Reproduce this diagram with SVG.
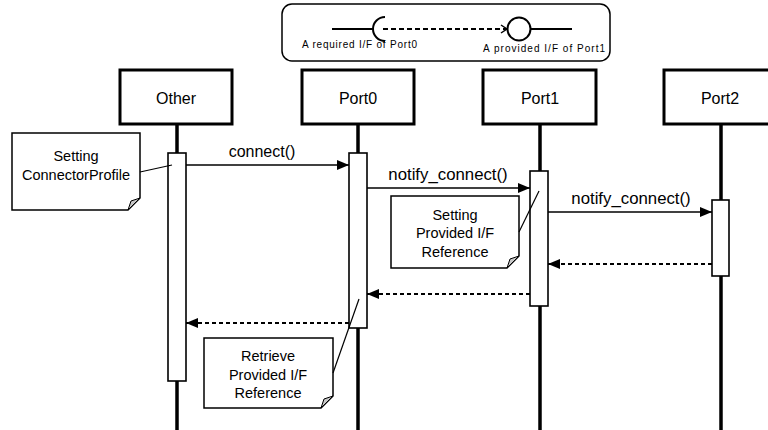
<svg xmlns="http://www.w3.org/2000/svg" width="768" height="430" viewBox="0 0 768 430">
<defs>
<style>
text{font-family:"Liberation Sans",Arial,sans-serif;fill:#000}
.head{fill:#fff;stroke:#000;stroke-width:3}
.life{stroke:#000;stroke-width:3.5}
.act{fill:#fff;stroke:#000;stroke-width:1.6}
.note{fill:#fff;stroke:#000;stroke-width:1.5}
.fold{fill:#c8c8c8;stroke:#000;stroke-width:1}
.lbl{font-size:16px;text-anchor:middle}
.ntxt{font-size:14.5px;text-anchor:middle}
.msg{stroke:#000;stroke-width:1.5;fill:none}
.ret{stroke:#000;stroke-width:1.8;fill:none;stroke-dasharray:4 3}
.link{stroke:#000;stroke-width:1.2}
.lg{font-size:10px}
</style>
<marker id="ah" markerWidth="12" markerHeight="10" refX="12" refY="5" orient="auto" markerUnits="userSpaceOnUse">
<path d="M0,0 L12,5 L0,10 Z" fill="#000"/>
</marker>
</defs>

<g id="legend">
<rect x="282" y="4" width="328" height="57" rx="10" ry="10" fill="#fff" stroke="#000" stroke-width="1.5"/>
<line x1="332" y1="29" x2="373" y2="29" stroke="#000" stroke-width="2"/>
<path d="M385,17 A12,12 0 0 0 385,41" fill="none" stroke="#000" stroke-width="2"/>
<line x1="383" y1="29" x2="506" y2="29" stroke="#000" stroke-width="2" stroke-dasharray="5 3"/>
<path d="M501,25 L507,29 L501,33" fill="none" stroke="#000" stroke-width="1.5"/>
<circle cx="519" cy="29" r="11.5" fill="#fff" stroke="#000" stroke-width="2"/>
<line x1="530.5" y1="29" x2="572" y2="29" stroke="#000" stroke-width="2"/>
<text class="lg" x="302" y="48" textLength="115" lengthAdjust="spacing">A required I/F of Port0</text>
<text class="lg" x="483" y="52" textLength="122" lengthAdjust="spacing">A provided I/F of Port1</text>
</g>

<g id="lifelines">
<line class="life" x1="177" y1="124" x2="177" y2="430"/>
<line class="life" x1="358" y1="124" x2="358" y2="430"/>
<line class="life" x1="540" y1="124" x2="540" y2="430"/>
<line class="life" x1="721" y1="124" x2="721" y2="430"/>
</g>

<g id="Other">
<rect class="head" x="120" y="70" width="112" height="54"/>
<text class="lbl" x="176" y="104">Other</text>
<rect class="act" x="168" y="153" width="18" height="228"/>
</g>
<g id="Port0">
<rect class="head" x="302" y="70" width="112" height="54"/>
<text class="lbl" x="358" y="104">Port0</text>
<rect class="act" x="349" y="153" width="18" height="175"/>
</g>
<g id="Port1">
<rect class="head" x="483" y="70" width="113" height="54"/>
<text class="lbl" x="540" y="104">Port1</text>
<rect class="act" x="530" y="171" width="18" height="135" stroke-width="2.2"/>
</g>
<g id="Port2">
<rect class="head" x="664" y="70" width="112" height="54"/>
<text class="lbl" x="720" y="104">Port2</text>
<rect class="act" x="712" y="200" width="17" height="76" stroke-width="2"/>
</g>

<g id="note1">
<path class="note" d="M12,133 H140 V198 L128,210 H12 Z"/>
<path class="fold" d="M140,198 L128,210 L131,201 Z"/>
<text class="ntxt" x="76" y="161">Setting</text>
<text class="ntxt" x="76" y="180">ConnectorProfile</text>
</g>
<g id="note2">
<path class="note" d="M391,196 H519 V256 L507,268 H391 Z"/>
<path class="fold" d="M519,256 L507,268 L510,259 Z"/>
<text class="ntxt" x="455" y="220">Setting</text>
<text class="ntxt" x="455" y="238">Provided I/F</text>
<text class="ntxt" x="455" y="257">Reference</text>
</g>
<g id="note3">
<path class="note" d="M204,338 H333 V396 L321,408 H204 Z"/>
<path class="fold" d="M333,396 L321,408 L324,399 Z"/>
<text class="ntxt" x="268" y="361">Retrieve</text>
<text class="ntxt" x="268" y="380">Provided I/F</text>
<text class="ntxt" x="268" y="398">Reference</text>
</g>

<g id="connectors">
<line class="link" x1="140" y1="172" x2="172" y2="165"/>
<line class="link" x1="519" y1="232" x2="539" y2="191" stroke-width="1.5"/>
<line class="link" x1="333" y1="373" x2="359" y2="299" stroke-width="1.5"/>
<line class="msg" x1="186" y1="165" x2="349" y2="165" marker-end="url(#ah)"/>
<text class="lbl" x="262" y="157">connect()</text>
<line class="msg" x1="367" y1="188" x2="530" y2="188" marker-end="url(#ah)"/>
<text class="lbl" x="448" y="180" style="font-size:16.8px">notify_connect()</text>
<line class="msg" x1="548" y1="212" x2="712" y2="212" marker-end="url(#ah)"/>
<text class="lbl" x="631" y="204" style="font-size:16.8px">notify_connect()</text>
<line class="ret" x1="712" y1="264" x2="548" y2="264" marker-end="url(#ah)"/>
<line class="ret" x1="530" y1="294" x2="367" y2="294" marker-end="url(#ah)"/>
<line class="ret" x1="349" y1="323" x2="186" y2="323" marker-end="url(#ah)"/>
</g>
</svg>
